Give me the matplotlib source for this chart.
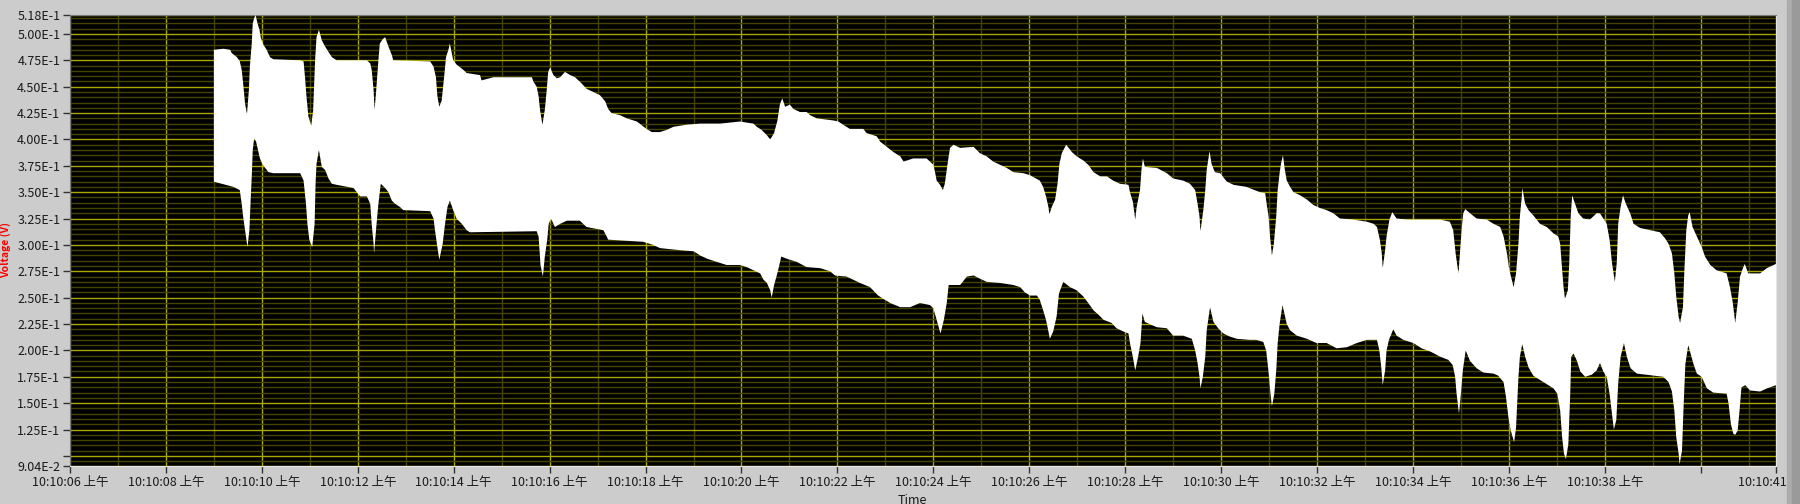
import numpy as np
import matplotlib.pyplot as plt
from matplotlib.patches import Rectangle
from matplotlib.ticker import MultipleLocator

# 字体：中文刻度 "上午" 需要 CJK 字体
plt.rcParams['font.family'] = ['Noto Sans CJK SC', 'DejaVu Sans']

# 时间轴：10:10:xx 的秒数
t_min, t_max = 6.0, 41.57
v_min, v_max = 0.0904, 0.518

# 信号上包络 (秒, 伏)
upper_t = [9.00, 9.20, 9.34, 9.37, 9.48, 9.54, 9.58, 9.61, 9.65, 9.69, 9.73, 9.75, 9.79, 9.81,
           9.84, 9.87, 9.91, 9.95, 9.98, 10.03, 10.10, 10.17, 10.24, 10.80, 10.87, 10.90, 10.93,
           10.97, 11.03, 11.07, 11.11, 11.14, 11.19, 11.25, 11.32, 11.39, 11.46, 11.56, 12.19,
           12.26, 12.29, 12.33, 12.35, 12.38, 12.43, 12.46, 12.52, 12.57, 12.64, 12.71, 12.74,
           13.51, 13.58, 13.63, 13.66, 13.70, 13.75, 13.80, 13.84, 13.89, 13.92, 13.99, 14.06,
           14.20, 14.27, 14.55, 14.58, 14.83, 15.63, 15.66, 15.73, 15.77, 15.80, 15.85, 15.90,
           15.94, 15.97, 16.01, 16.08, 16.15, 16.22, 16.32, 16.43, 16.53, 16.60, 16.67, 16.77,
           16.91, 17.05, 17.16, 17.22, 17.29, 17.47, 17.61, 17.82, 18.02, 18.13, 18.30, 18.44,
           18.58, 18.86, 19.14, 19.55, 19.97, 20.25, 20.32, 20.42, 20.53, 20.60, 20.68, 20.75,
           20.80, 20.85, 20.91, 21.01, 21.08, 21.22, 21.36, 21.43, 21.57, 21.92, 22.02, 22.12,
           22.26, 22.54, 22.61, 22.82, 22.89, 23.03, 23.17, 23.31, 23.38, 23.58, 23.86, 23.93,
           24.00, 24.04, 24.07, 24.14, 24.20, 24.24, 24.28, 24.32, 24.35, 24.42, 24.56, 24.84,
           24.97, 25.11, 25.25, 25.39, 25.53, 25.67, 25.88, 26.02, 26.22, 26.29, 26.35, 26.40,
           26.42, 26.47, 26.54, 26.59, 26.63, 26.68, 26.77, 26.89, 26.99, 27.13, 27.23, 27.34,
           27.48, 27.62, 27.75, 27.89, 28.07, 28.10, 28.16, 28.19, 28.21, 28.24, 28.31, 28.34,
           28.37, 28.41, 28.66, 28.87, 29.00, 29.21, 29.35, 29.46, 29.51, 29.55, 29.57, 29.63,
           29.67, 29.70, 29.76, 29.80, 29.87, 29.98, 30.12, 30.26, 30.53, 30.81, 30.92, 30.95,
           30.99, 31.02, 31.06, 31.10, 31.15, 31.18, 31.22, 31.25, 31.29, 31.33, 31.37, 31.44,
           31.51, 31.65, 31.79, 31.92, 32.06, 32.20, 32.34, 32.48, 32.76, 33.04, 33.18, 33.25,
           33.31, 33.35, 33.37, 33.42, 33.45, 33.51, 33.57, 33.66, 33.87, 34.57, 34.77, 34.84,
           34.89, 34.93, 34.95, 34.98, 35.02, 35.05, 35.09, 35.19, 35.33, 35.54, 35.68, 35.82,
           35.89, 35.96, 36.01, 36.10, 36.15, 36.20, 36.23, 36.27, 36.28, 36.34, 36.41, 36.51,
           36.65, 36.79, 36.93, 37.03, 37.07, 37.10, 37.14, 37.17, 37.23, 37.26, 37.29, 37.32,
           37.38, 37.45, 37.55, 37.69, 37.83, 37.90, 37.97, 38.04, 38.10, 38.15, 38.21, 38.25,
           38.28, 38.33, 38.38, 38.44, 38.53, 38.60, 38.74, 39.15, 39.26, 39.33, 39.40, 39.45,
           39.49, 39.54, 39.57, 39.63, 39.66, 39.70, 39.74, 39.77, 39.83, 39.92, 40.02, 40.09,
           40.20, 40.33, 40.54, 40.61, 40.67, 40.72, 40.77, 40.82, 40.88, 40.92, 40.99, 41.24,
           41.38, 41.57]
upper_v = [0.485, 0.486, 0.485, 0.482, 0.478, 0.474, 0.466, 0.453, 0.434, 0.424, 0.447, 0.469, 0.491, 0.510,
           0.515, 0.518, 0.510, 0.504, 0.496, 0.490, 0.485, 0.478, 0.476, 0.475, 0.474, 0.459, 0.441,
           0.422, 0.413, 0.428, 0.475, 0.497, 0.504, 0.494, 0.488, 0.483, 0.478, 0.475, 0.475,
           0.472, 0.466, 0.447, 0.428, 0.444, 0.475, 0.491, 0.495, 0.497, 0.488, 0.480, 0.475,
           0.474, 0.469, 0.459, 0.441, 0.431, 0.437, 0.459, 0.478, 0.485, 0.491, 0.475, 0.471,
           0.466, 0.463, 0.461, 0.456, 0.459, 0.459, 0.455, 0.450, 0.441, 0.428, 0.414, 0.428,
           0.447, 0.464, 0.468, 0.461, 0.458, 0.459, 0.464, 0.461, 0.459, 0.456, 0.453, 0.448,
           0.445, 0.442, 0.436, 0.429, 0.425, 0.423, 0.420, 0.417, 0.410, 0.407, 0.407, 0.409,
           0.412, 0.414, 0.415, 0.415, 0.417, 0.415, 0.412, 0.409, 0.404, 0.400, 0.406, 0.418,
           0.433, 0.439, 0.431, 0.433, 0.429, 0.426, 0.426, 0.423, 0.420, 0.418, 0.417, 0.414,
           0.410, 0.410, 0.406, 0.403, 0.398, 0.393, 0.388, 0.384, 0.379, 0.382, 0.382, 0.379,
           0.376, 0.368, 0.361, 0.357, 0.352, 0.358, 0.371, 0.384, 0.392, 0.395, 0.392, 0.393,
           0.387, 0.384, 0.379, 0.376, 0.373, 0.369, 0.368, 0.366, 0.361, 0.355, 0.346, 0.336,
           0.329, 0.336, 0.343, 0.358, 0.377, 0.387, 0.395, 0.388, 0.384, 0.380, 0.376, 0.369,
           0.365, 0.365, 0.361, 0.358, 0.357, 0.350, 0.341, 0.331, 0.324, 0.336, 0.352, 0.371,
           0.382, 0.374, 0.373, 0.368, 0.363, 0.361, 0.358, 0.352, 0.339, 0.327, 0.313, 0.333,
           0.352, 0.371, 0.389, 0.377, 0.369, 0.368, 0.360, 0.357, 0.355, 0.350, 0.349, 0.339,
           0.327, 0.308, 0.290, 0.301, 0.327, 0.352, 0.368, 0.377, 0.385, 0.371, 0.361, 0.355,
           0.350, 0.347, 0.343, 0.338, 0.335, 0.333, 0.330, 0.325, 0.324, 0.322, 0.320, 0.317,
           0.305, 0.292, 0.278, 0.295, 0.308, 0.324, 0.331, 0.325, 0.324, 0.324, 0.322, 0.314,
           0.292, 0.279, 0.273, 0.292, 0.317, 0.330, 0.334, 0.330, 0.325, 0.324, 0.320, 0.317,
           0.308, 0.292, 0.276, 0.260, 0.273, 0.301, 0.327, 0.346, 0.354, 0.339, 0.333, 0.328,
           0.320, 0.317, 0.311, 0.308, 0.301, 0.283, 0.260, 0.249, 0.257, 0.283, 0.327, 0.347,
           0.339, 0.330, 0.325, 0.324, 0.330, 0.330, 0.325, 0.320, 0.305, 0.283, 0.265, 0.283,
           0.320, 0.336, 0.347, 0.339, 0.330, 0.320, 0.316, 0.312, 0.306, 0.301, 0.292, 0.273,
           0.251, 0.232, 0.226, 0.241, 0.276, 0.314, 0.328, 0.331, 0.317, 0.308, 0.298, 0.289,
           0.281, 0.276, 0.273, 0.260, 0.245, 0.226, 0.245, 0.270, 0.278, 0.282, 0.273, 0.273,
           0.278, 0.282]

# 信号下包络 (秒, 伏)
lower_t = [9.00, 9.41, 9.54, 9.58, 9.61, 9.65, 9.70, 9.74, 9.77, 9.79, 9.81, 9.84, 9.88, 9.93,
           9.96, 10.02, 10.07, 10.14, 10.24, 10.80, 10.87, 10.92, 10.95, 10.99, 11.05, 11.10,
           11.12, 11.14, 11.19, 11.25, 11.32, 11.39, 11.46, 11.56, 11.91, 11.98, 12.05, 12.19,
           12.26, 12.29, 12.33, 12.34, 12.38, 12.43, 12.48, 12.57, 12.64, 12.71, 12.78, 12.88,
           12.95, 13.51, 13.58, 13.61, 13.65, 13.70, 13.77, 13.82, 13.87, 13.92, 13.99, 14.06,
           14.17, 14.27, 14.34, 15.73, 15.77, 15.79, 15.81, 15.86, 15.90, 15.95, 15.98, 16.03,
           16.11, 16.22, 16.36, 16.63, 16.70, 16.77, 17.12, 17.19, 17.22, 17.95, 18.16, 18.30,
           18.72, 19.00, 19.14, 19.28, 19.48, 19.69, 19.97, 20.11, 20.25, 20.39, 20.46, 20.53,
           20.60, 20.63, 20.68, 20.73, 20.78, 20.83, 20.94, 21.15, 21.36, 21.64, 21.85, 21.95,
           22.19, 22.33, 22.47, 22.68, 22.85, 22.99, 23.10, 23.31, 23.52, 23.72, 23.93, 24.00,
           24.07, 24.15, 24.22, 24.28, 24.32, 24.56, 24.70, 24.84, 25.11, 25.39, 25.67, 25.81,
           25.91, 26.02, 26.16, 26.22, 26.29, 26.35, 26.40, 26.43, 26.50, 26.57, 26.62, 26.71,
           26.85, 26.99, 27.13, 27.23, 27.34, 27.44, 27.55, 27.72, 27.82, 27.96, 28.07, 28.10,
           28.16, 28.21, 28.27, 28.32, 28.36, 28.41, 28.66, 28.87, 29.00, 29.21, 29.39, 29.46,
           29.51, 29.55, 29.57, 29.62, 29.67, 29.70, 29.77, 29.84, 29.94, 30.05, 30.19, 30.33,
           30.60, 30.74, 30.88, 30.94, 30.97, 31.00, 31.03, 31.06, 31.11, 31.15, 31.18, 31.22,
           31.28, 31.37, 31.44, 31.58, 31.79, 31.99, 32.20, 32.41, 32.62, 32.83, 33.04, 33.25,
           33.30, 33.34, 33.37, 33.42, 33.45, 33.50, 33.59, 33.66, 33.80, 34.01, 34.18, 34.36,
           34.57, 34.74, 34.83, 34.88, 34.91, 34.96, 35.00, 35.04, 35.10, 35.19, 35.33, 35.47,
           35.68, 35.78, 35.85, 35.89, 35.94, 35.99, 36.04, 36.11, 36.15, 36.20, 36.23, 36.28,
           36.34, 36.41, 36.51, 36.65, 36.79, 36.93, 37.01, 37.07, 37.11, 37.15, 37.19, 37.24,
           37.28, 37.30, 37.35, 37.42, 37.49, 37.59, 37.73, 37.83, 37.90, 37.97, 38.04, 38.10,
           38.15, 38.19, 38.24, 38.28, 38.33, 38.40, 38.46, 38.54, 38.67, 39.22, 39.33, 39.40,
           39.45, 39.49, 39.54, 39.56, 39.61, 39.64, 39.68, 39.74, 39.85, 39.92, 40.02, 40.13,
           40.26, 40.54, 40.58, 40.63, 40.68, 40.72, 40.77, 40.81, 40.85, 40.93, 41.03, 41.24,
           41.38, 41.57]
lower_v = [0.360, 0.355, 0.352, 0.339, 0.327, 0.314, 0.298, 0.314, 0.346, 0.365, 0.390, 0.401, 0.398, 0.388,
           0.382, 0.376, 0.373, 0.369, 0.368, 0.368, 0.361, 0.339, 0.320, 0.305, 0.298, 0.320,
           0.358, 0.377, 0.390, 0.374, 0.371, 0.363, 0.358, 0.357, 0.354, 0.350, 0.346, 0.346,
           0.339, 0.320, 0.301, 0.292, 0.314, 0.339, 0.358, 0.354, 0.350, 0.342, 0.339, 0.336,
           0.333, 0.332, 0.325, 0.314, 0.301, 0.286, 0.301, 0.320, 0.336, 0.342, 0.333, 0.325,
           0.320, 0.314, 0.312, 0.313, 0.308, 0.295, 0.281, 0.270, 0.289, 0.305, 0.320, 0.325,
           0.317, 0.320, 0.323, 0.323, 0.320, 0.317, 0.314, 0.308, 0.305, 0.303, 0.300, 0.297,
           0.295, 0.294, 0.290, 0.287, 0.284, 0.281, 0.281, 0.279, 0.276, 0.273, 0.267, 0.264,
           0.257, 0.250, 0.262, 0.270, 0.279, 0.289, 0.287, 0.284, 0.279, 0.278, 0.275, 0.271,
           0.270, 0.267, 0.264, 0.260, 0.252, 0.248, 0.245, 0.241, 0.241, 0.245, 0.243, 0.240,
           0.229, 0.216, 0.229, 0.245, 0.262, 0.262, 0.270, 0.271, 0.265, 0.264, 0.262, 0.260,
           0.255, 0.252, 0.252, 0.248, 0.238, 0.229, 0.218, 0.211, 0.218, 0.232, 0.254, 0.265,
           0.260, 0.257, 0.251, 0.245, 0.238, 0.234, 0.229, 0.226, 0.221, 0.218, 0.216, 0.207,
           0.194, 0.181, 0.194, 0.207, 0.235, 0.227, 0.222, 0.221, 0.214, 0.214, 0.211, 0.200,
           0.188, 0.175, 0.164, 0.175, 0.194, 0.219, 0.241, 0.227, 0.221, 0.216, 0.213, 0.211,
           0.210, 0.210, 0.208, 0.200, 0.188, 0.175, 0.159, 0.147, 0.159, 0.181, 0.207, 0.225,
           0.243, 0.225, 0.219, 0.214, 0.211, 0.207, 0.207, 0.202, 0.203, 0.207, 0.210, 0.210,
           0.200, 0.184, 0.167, 0.181, 0.200, 0.210, 0.220, 0.214, 0.210, 0.207, 0.202, 0.199,
           0.194, 0.191, 0.186, 0.175, 0.159, 0.140, 0.159, 0.181, 0.200, 0.190, 0.183, 0.179,
           0.178, 0.176, 0.172, 0.170, 0.156, 0.137, 0.124, 0.113, 0.127, 0.175, 0.194, 0.206,
           0.194, 0.184, 0.176, 0.172, 0.168, 0.164, 0.159, 0.143, 0.118, 0.102, 0.097, 0.111,
           0.159, 0.194, 0.197, 0.190, 0.180, 0.175, 0.177, 0.181, 0.188, 0.180, 0.175, 0.159,
           0.140, 0.125, 0.134, 0.169, 0.194, 0.207, 0.194, 0.183, 0.178, 0.175, 0.170, 0.161,
           0.143, 0.118, 0.102, 0.092, 0.105, 0.143, 0.187, 0.205, 0.187, 0.178, 0.175, 0.164,
           0.160, 0.159, 0.150, 0.130, 0.121, 0.120, 0.124, 0.143, 0.165, 0.167, 0.162, 0.161,
           0.164, 0.167]

# 刻度
x_major = list(range(6, 41, 2)) + [t_max]
x_labels = [f'10:10:{s:02d} 上午' for s in range(6, 39, 2)] + ['', '10:10:41 上午']
y_major = [0.0904, 0.1] + [round(0.125 + 0.025 * i, 3) for i in range(16)] + [0.518]


def sci(v):
    e = int(np.floor(np.log10(v)))
    return f'{v / 10 ** e:.2f}E{e}'


y_labels = [sci(v) if v != 0.1 else '' for v in y_major]

# 图形
fig = plt.figure(figsize=(18, 5.04), dpi=100, facecolor='#cccccc')
ax = fig.add_axes([70 / 1800, 38 / 504, 1706 / 1800, 451 / 504])
ax.set_facecolor('black')

poly_t = np.concatenate([upper_t, lower_t[::-1]])
poly_v = np.concatenate([upper_v, lower_v[::-1]])
ax.fill(poly_t, poly_v, color='white', lw=0, zorder=3)

ax.set_xlim(t_min, t_max)
ax.set_ylim(v_min, v_max)
ax.set_xticks(x_major)
ax.set_xticklabels(x_labels)
ax.set_yticks(y_major)
ax.set_yticklabels(y_labels)
ax.xaxis.set_minor_locator(MultipleLocator(1))
ax.yaxis.set_minor_locator(MultipleLocator(0.005))

ax.set_axisbelow(True)
ax.grid(which='major', color='#a9a600', lw=1)
ax.grid(which='minor', color='#444400', lw=1)
ax.tick_params(which='minor', length=0)
ax.tick_params(which='major', length=5, width=1, color='#333333',
               labelsize=9, labelcolor='#1a1a1a', pad=2)

for side in ['left', 'top']:
    ax.spines[side].set_color('#7a7a7a')
for side in ['right', 'bottom']:
    ax.spines[side].set_color('#e6e6e6')

fig.text(6 / 1800, 0.504, 'Voltage (V)', rotation=90, color='red', fontweight='bold',
         fontsize=7.5, ha='center', va='center')
fig.text(912 / 1800, 10 / 504, 'Time', ha='center', va='top', fontsize=9, color='#1a1a1a')

# 右侧面板边框
fig.add_artist(Rectangle((1787 / 1800, 0), 5 / 1800, 1, transform=fig.transFigure,
                         color='#acacac', zorder=10))
fig.add_artist(Rectangle((1792 / 1800, 0), 8 / 1800, 1, transform=fig.transFigure,
                         color='#9a9a9a', zorder=10))

fig.savefig('out.png', dpi=100, facecolor=fig.get_facecolor())
